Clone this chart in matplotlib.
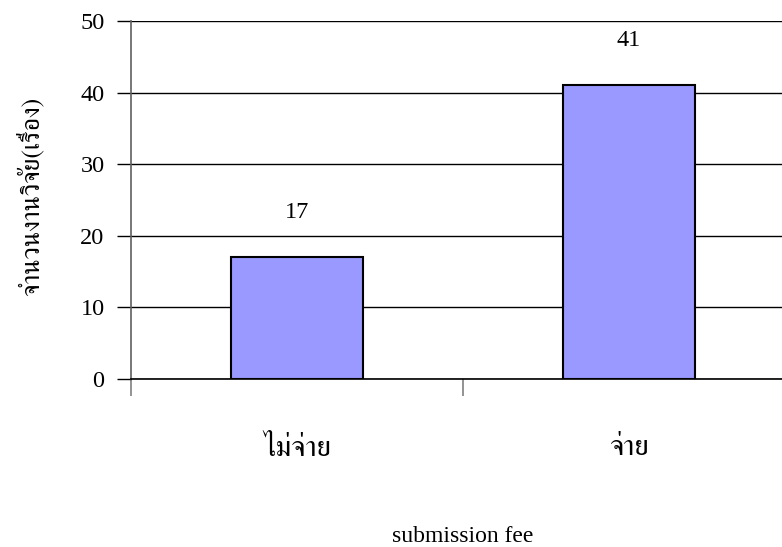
import matplotlib
matplotlib.use('Agg')
import numpy as np
import matplotlib.pyplot as plt

# ค่าจากกราฟ
categories = ['ไม่จ่าย', 'จ่าย']
counts = [17, 41]
yticks = [0, 10, 20, 30, 40, 50]

plt.rcParams['font.family'] = ['Liberation Serif', 'FreeSerif']

fig = plt.figure(figsize=(7.82, 5.47), dpi=100)
ax = fig.add_axes([131 / 782, 1 - 379 / 547, 664 / 782, 358 / 547])

x = np.arange(len(categories))
bars = ax.bar(x, counts, width=0.4, color='#9999FF', edgecolor='black', linewidth=1.5, zorder=3)

ax.set_xlim(-0.5, len(categories) - 0.5)
ax.set_ylim(0, 50)
ax.set_yticks(yticks)
ax.yaxis.grid(True, color='black', linewidth=1, zorder=0)
ax.tick_params(axis='y', direction='out', length=10, width=1, color='black', labelsize=17.5, pad=9)

ax.set_xticks(x)
ax.set_xticklabels(categories, fontsize=21, family=['FreeSerif'])
ax.set_xticks(np.arange(-0.5, len(categories)), minor=True)
ax.tick_params(axis='x', which='major', length=0, pad=41)
ax.tick_params(axis='x', which='minor', direction='out', length=12, width=1.2, color='#808080')

for s in ['top', 'right']:
    ax.spines[s].set_visible(False)
ax.spines['left'].set_color('#606060')
ax.spines['left'].set_linewidth(1.2)
ax.spines['bottom'].set_color('black')
ax.spines['bottom'].set_linewidth(1.2)

for xi, v in zip(x, counts):
    ax.annotate(str(v), (xi, v), xytext=(0, 32), textcoords='offset points',
                ha='center', va='center', fontsize=17.5)

fig.text(31 / 782, 1 - 196 / 547, 'จำนวนงานวิจัย(เรื่อง)', rotation=90, ha='center', va='center',
         fontsize=18.5, family=['FreeSerif'])
fig.text(463 / 782, 1 - 536 / 547, 'submission fee', ha='center', va='center', fontsize=17)

fig.savefig('out.png')
